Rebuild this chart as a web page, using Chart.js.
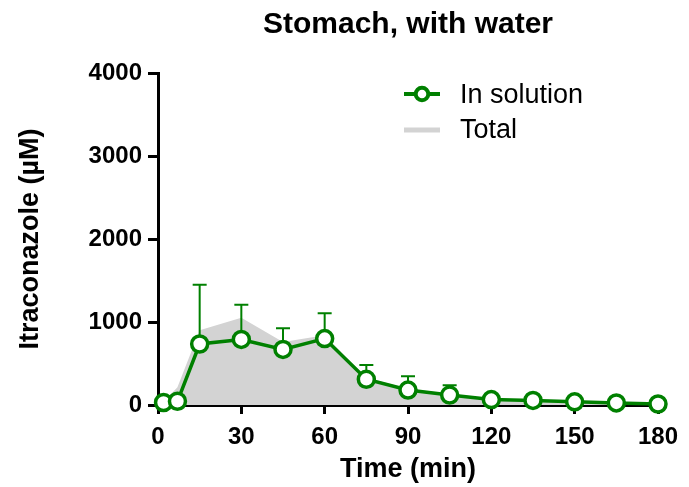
<!DOCTYPE html>
<html>
<head>
<meta charset="utf-8">
<script src="https://cdn.jsdelivr.net/npm/chart.js@4"></script>
<style>
  html, body { margin: 0; padding: 0; background: #fff; }
  #wrap { width: 689px; height: 487px; position: relative; }
</style>
</head>
<body>
<div id="wrap"><canvas id="c" width="689" height="487"></canvas></div>
<script>
// ---- Data ----
const timeMin = [2, 7, 15, 30, 45, 60, 75, 90, 105, 120, 135, 150, 165, 180];
const inSolution = [30, 45, 735, 790, 670, 800, 310, 180, 120, 65, 55, 38, 25, 12];
const inSolutionErr = [0, 0, 715, 418, 254, 305, 172, 166, 117, 0, 0, 0, 0, 0];
const total = [40, 215, 900, 1050, 760, 840, 330, 195, 135, 75, 62, 44, 30, 15];
const xTicks = [0, 30, 60, 90, 120, 150, 180];
const yTicks = [0, 1000, 2000, 3000, 4000];

const chartTitle = 'Stomach, with water';
const xTitle = 'Time (min)';
const yTitle = 'Itraconazole (\u00B5M)';
const legendLabels = ['In solution', 'Total'];

const GREEN = '#008000';
const GREY = '#d3d3d3';
const FONT = '"Liberation Sans", Arial, Helvetica, sans-serif';

const errorBarPlugin = {
  id: 'errorBars',
  beforeDatasetDraw(chart, args) {
    if (args.index !== 0) return;
    const ctx = chart.ctx, xs = chart.scales.x, ys = chart.scales.y;
    ctx.save();
    ctx.strokeStyle = GREEN;
    ctx.lineWidth = 2;
    timeMin.forEach((t, i) => {
      const e = inSolutionErr[i];
      if (!e) return;
      const px = xs.getPixelForValue(t);
      const py = ys.getPixelForValue(inSolution[i]);
      const pt = ys.getPixelForValue(inSolution[i] + e);
      ctx.beginPath();
      ctx.moveTo(px, py);
      ctx.lineTo(px, pt);
      ctx.moveTo(px - 7, pt);
      ctx.lineTo(px + 7, pt);
      ctx.stroke();
    });
    ctx.restore();
  }
};

const titleLegendPlugin = {
  id: 'titleLegend',
  afterDraw(chart) {
    const ctx = chart.ctx, ca = chart.chartArea;
    ctx.save();
    ctx.fillStyle = '#000';
    ctx.font = 'bold 30px ' + FONT;
    ctx.textAlign = 'center';
    ctx.textBaseline = 'alphabetic';
    ctx.fillText(chartTitle, (ca.left + ca.right) / 2, 33);

    // legend
    const lx0 = 404, lx1 = 440, tx = 460;
    const y1 = 94, y2 = 130;
    ctx.strokeStyle = GREEN;
    ctx.lineWidth = 4;
    ctx.beginPath(); ctx.moveTo(lx0, y1); ctx.lineTo(lx1, y1); ctx.stroke();
    ctx.beginPath(); ctx.arc((lx0 + lx1) / 2, y1, 6.3, 0, Math.PI * 2);
    ctx.fillStyle = '#fff'; ctx.fill(); ctx.lineWidth = 4; ctx.stroke();
    ctx.strokeStyle = GREY;
    ctx.lineWidth = 5;
    ctx.beginPath(); ctx.moveTo(lx0, y2); ctx.lineTo(lx1, y2); ctx.stroke();

    ctx.fillStyle = '#000';
    ctx.font = '27px ' + FONT;
    ctx.textAlign = 'left';
    ctx.textBaseline = 'middle';
    ctx.fillText(legendLabels[0], tx, y1 + 2);
    ctx.fillText(legendLabels[1], tx, y2 + 1);
    ctx.restore();
  }
};

new Chart(document.getElementById('c'), {
  type: 'line',
  data: {
    datasets: [
      {
        label: legendLabels[0],
        data: timeMin.map((t, i) => ({ x: t, y: inSolution[i] })),
        borderColor: GREEN,
        borderWidth: 3.5,
        backgroundColor: '#fff',
        pointBackgroundColor: '#fff',
        pointBorderColor: GREEN,
        pointBorderWidth: 3.5,
        pointRadius: 8,
        pointHoverRadius: 8,
        fill: false,
        tension: 0,
        clip: false
      },
      {
        label: legendLabels[1],
        data: timeMin.map((t, i) => ({ x: t, y: total[i] })),
        borderColor: GREY,
        borderWidth: 0,
        backgroundColor: GREY,
        pointRadius: 0,
        fill: 'origin',
        tension: 0
      }
    ]
  },
  options: {
    responsive: false,
    animation: false,
    devicePixelRatio: 1,
    layout: { padding: { top: 73, right: 31, left: 0, bottom: 0 } },
    plugins: {
      legend: { display: false },
      title: { display: false },
      tooltip: { enabled: false }
    },
    scales: {
      x: {
        type: 'linear',
        min: 0, max: 180,
        afterFit(scale) { scale.height = 82; },
        afterBuildTicks(scale) { scale.ticks = xTicks.map(v => ({ value: v })); },
        grid: { display: true, drawOnChartArea: false, drawTicks: true, tickLength: 9, tickWidth: 3, tickColor: '#000' },
        border: { display: true, color: '#000', width: 3 },
        ticks: { color: '#000', font: { family: FONT, size: 24, weight: 'bold' }, padding: 9, maxRotation: 0, autoSkip: false,
                 callback: v => String(v) },
        title: { display: true, text: xTitle, color: '#000', font: { family: FONT, size: 27, weight: 'bold' }, padding: { top: 0, bottom: 1 } }
      },
      y: {
        type: 'linear',
        min: 0, max: 4000,
        afterFit(scale) { scale.width = 158; },
        afterBuildTicks(scale) { scale.ticks = yTicks.map(v => ({ value: v })); },
        grid: { display: true, drawOnChartArea: false, drawTicks: true, tickLength: 10, tickWidth: 3, tickColor: '#000' },
        border: { display: true, color: '#000', width: 3 },
        ticks: { color: '#000', font: { family: FONT, size: 24, weight: 'bold' }, padding: 6, autoSkip: false,
                 callback: v => String(v) },
        title: { display: true, text: yTitle, color: '#000', font: { family: FONT, size: 27, weight: 'bold' }, padding: { top: 14, bottom: 0 } }
      }
    }
  },
  plugins: [errorBarPlugin, titleLegendPlugin]
});
</script>
</body>
</html>
